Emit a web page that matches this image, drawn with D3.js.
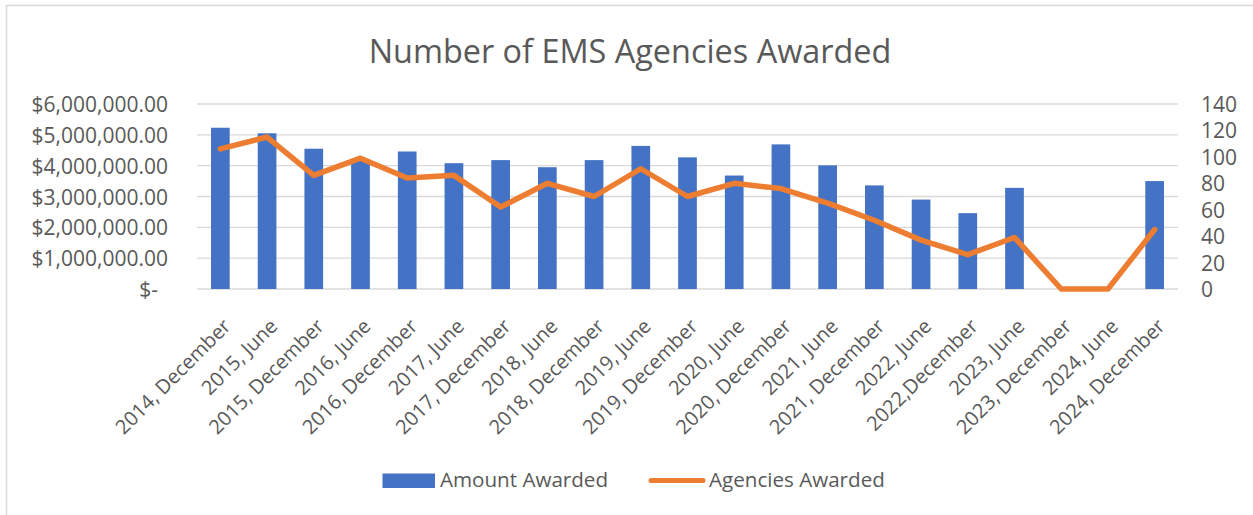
<!DOCTYPE html>
<html>
<head>
<meta charset="utf-8">
<script src="https://cdn.jsdelivr.net/npm/d3@7"></script>
<style>
  body { margin: 0; background: #fff; }
  text { font-family: "Open Sans", sans-serif; fill: #595959; }
</style>
</head>
<body>
<svg class="chart"></svg>
<script>
var periods = ["2014, December", "2015, June", "2015, December", "2016, June", "2016, December",
  "2017, June", "2017, December", "2018, June", "2018, December", "2019, June", "2019, December",
  "2020, June", "2020, December", "2021, June", "2021, December", "2022, June", "2022,December",
  "2023, June", "2023, December", "2024, June", "2024, December"];

// dollars, null = no award that round
var amountAwarded = [5230000, 5050000, 4550000, 4150000, 4460000, 4080000, 4180000, 3950000,
  4180000, 4640000, 4270000, 3680000, 4690000, 4010000, 3360000, 2900000, 2460000, 3280000,
  null, null, 3500000];

var agenciesAwarded = [106, 115, 86, 99, 84, 86, 62, 80, 70, 91, 70, 80, 76, 65, 52, 37, 26, 39, 0, 0, 45];

var leftTicks = [0, 1000000, 2000000, 3000000, 4000000, 5000000, 6000000];
var rightTicks = [0, 20, 40, 60, 80, 100, 120, 140];

var W = 1253, H = 515;
var margin = {top: 104, right: 75, bottom: 226, left: 197},
    width = W - margin.left - margin.right,
    height = H - margin.top - margin.bottom;

var svg = d3.select(".chart").attr("width", W).attr("height", H);

// chart border (only top/left edges are in frame)
svg.append("rect")
    .attr("x", 6.5).attr("y", 5.5)
    .attr("width", W + 20).attr("height", H + 20)
    .attr("fill", "none").attr("stroke", "#d9d9d9").attr("stroke-width", 1.5);

var title = svg.append("text")
    .attr("x", 630).attr("y", 62.5)
    .attr("text-anchor", "middle")
    .style("font-size", "30px")
    .text("Number of EMS Agencies Awarded");
// fit title width to reference
var tw = title.node().getComputedTextLength();
title.style("font-size", (30 * 523 / tw) + "px");

var chart = svg.append("g")
    .attr("transform", "translate(" + margin.left + "," + margin.top + ")");

var x = d3.scaleBand().domain(periods).range([0, width]).paddingInner(0.6).paddingOuter(0.3);
var yL = d3.scaleLinear().domain([0, 6000000]).range([height, 0]);
var yR = d3.scaleLinear().domain([0, 140]).range([height, 0]);

// gridlines
chart.append("g").selectAll("line")
    .data(leftTicks)
  .enter().append("line")
    .attr("x1", 0).attr("x2", width)
    .attr("y1", function(d) { return yL(d); })
    .attr("y2", function(d) { return yL(d); })
    .attr("stroke", "#d9d9d9").attr("stroke-width", 1.4);

var fmt = d3.format("$,.2f");
var yAxisL = d3.axisLeft(yL).tickValues(leftTicks).tickSize(0).tickPadding(0)
    .tickFormat(function(d) { return d === 0 ? "$-" : fmt(d); });
var gl = chart.append("g").attr("transform", "translate(-29,0)").call(yAxisL);
gl.select(".domain").remove();
gl.selectAll("text").style("font-size", "21px").attr("fill", "#595959")
    .style("font-family", "'Open Sans', sans-serif")
    .attr("dy", "0.36em")
    .attr("dx", function(d) { return d === 0 ? "-10" : "0"; });

var yAxisR = d3.axisRight(yR).tickValues(rightTicks).tickSize(0).tickPadding(0);
var gr = chart.append("g").attr("transform", "translate(" + (width + 23) + ",0)").call(yAxisR);
gr.select(".domain").remove();
gr.selectAll("text").style("font-size", "21px").attr("fill", "#595959")
    .style("font-family", "'Open Sans', sans-serif")
    .attr("dy", "0.36em");

// x labels, rotated
chart.append("g").selectAll("text")
    .data(periods)
  .enter().append("text")
    .attr("text-anchor", "end")
    .style("font-size", "20px")
    .attr("transform", function(d) {
      var cx = x(d) + x.bandwidth() / 2;
      return "translate(" + (cx + 11.5) + "," + (height + 38.5) + ") rotate(-45)";
    })
    .text(function(d) { return d; });

// bars
chart.append("g").selectAll("rect")
    .data(periods.map(function(p, i) { return {p: p, v: amountAwarded[i]}; })
      .filter(function(d) { return d.v != null; }))
  .enter().append("rect")
    .attr("x", function(d) { return x(d.p); })
    .attr("width", x.bandwidth())
    .attr("y", function(d) { return yL(d.v); })
    .attr("height", function(d) { return height - yL(d.v); })
    .attr("fill", "#4472c4");

// agencies line
var line = d3.line()
    .x(function(d, i) { return x(periods[i]) + x.bandwidth() / 2; })
    .y(function(d) { return yR(d); });

chart.append("path")
    .datum(agenciesAwarded)
    .attr("d", line)
    .attr("fill", "none")
    .attr("stroke", "#ed7d31")
    .attr("stroke-width", 5.5)
    .attr("stroke-linejoin", "round")
    .attr("stroke-linecap", "round");

// legend
var legend = svg.append("g");
legend.append("rect")
    .attr("x", 382.5).attr("y", 473.5).attr("width", 52.5).attr("height", 14.5)
    .attr("fill", "#4472c4");
legend.append("text")
    .attr("x", 440).attr("y", 487)
    .style("font-size", "20.6px")
    .text("Amount Awarded");
legend.append("line")
    .attr("x1", 651).attr("x2", 703).attr("y1", 480.5).attr("y2", 480.5)
    .attr("stroke", "#ed7d31").attr("stroke-width", 5)
    .attr("stroke-linecap", "round");
legend.append("text")
    .attr("x", 709).attr("y", 487)
    .style("font-size", "20.6px")
    .text("Agencies Awarded");
</script>
</body>
</html>
